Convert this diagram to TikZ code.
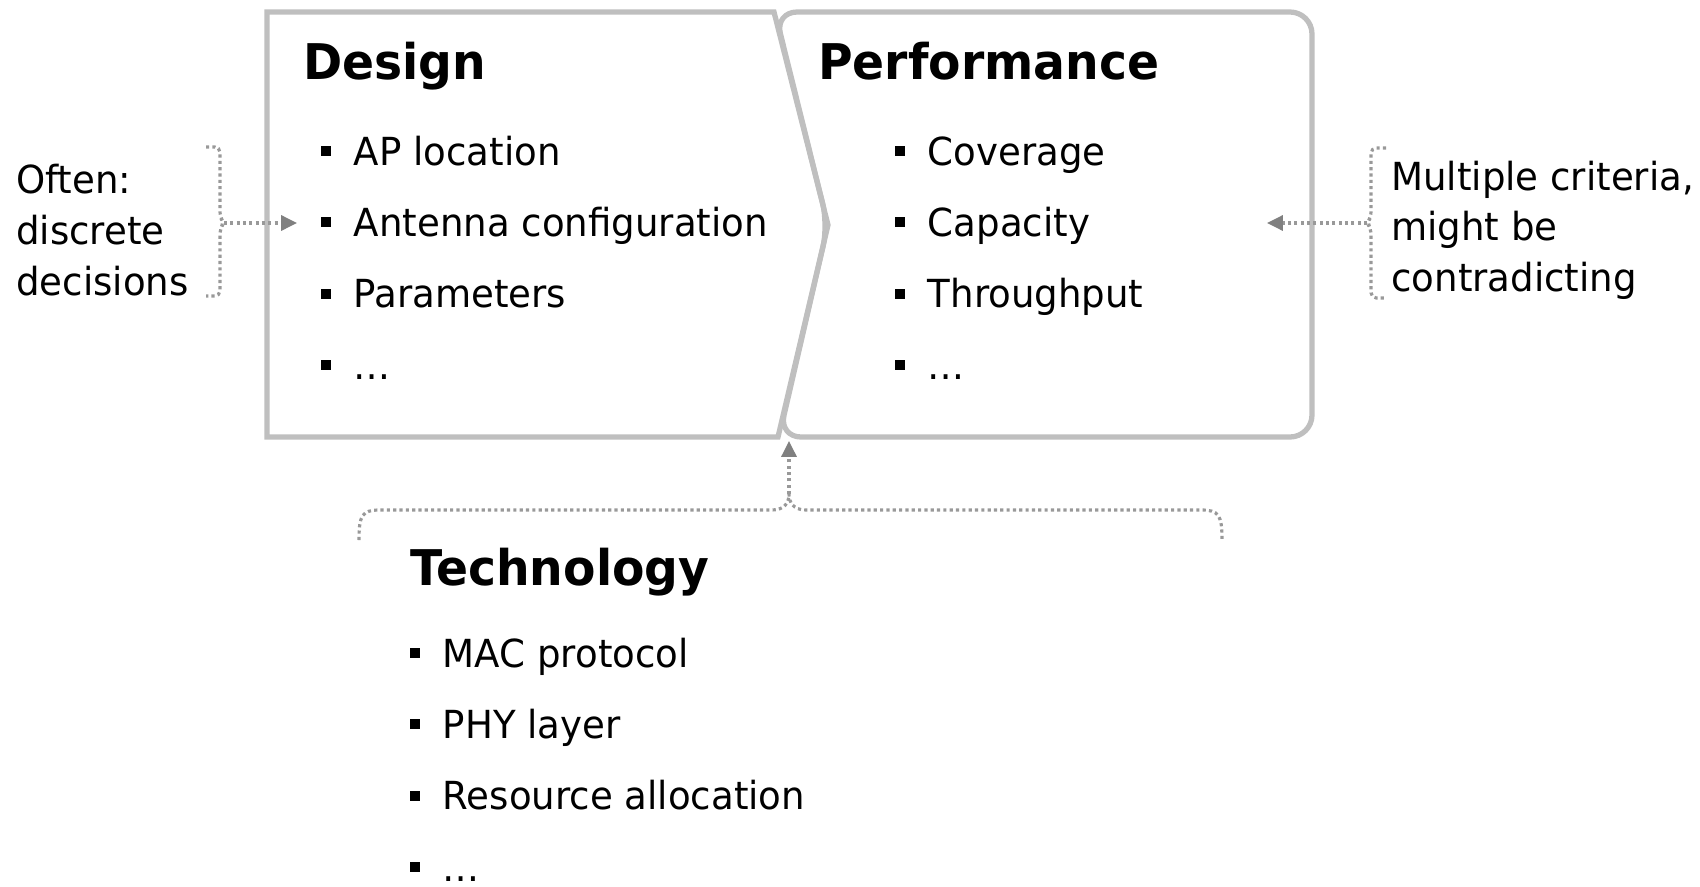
\documentclass[tikz,border=0pt]{standalone}
\usepackage{fontspec}
\setmainfont{DejaVu Sans}[FakeStretch=0.96]
\usetikzlibrary{positioning,arrows.meta}
\definecolor{boxgray}{HTML}{BFBFBF}
\definecolor{dotgray}{HTML}{999999}
\definecolor{tipgray}{HTML}{808080}
\newcommand\sqbul{\rule[0.24em]{0.26em}{0.26em}\hspace{0.58em}}

\begin{document}
\begin{tikzpicture}[x=0.02cm,y=-0.02cm,>={Triangle[length=9pt,width=8.5pt,color=tipgray]},
box/.style={draw=boxgray,line width=3pt},
dots/.style={draw=dotgray,line width=1.8pt,dash pattern=on 1.8pt off 1.8pt},
title/.style={anchor=base west,inner sep=0pt,font=\fontsize{28}{34}\selectfont\bfseries},
item/.style={anchor=base west,inner sep=0pt,font=\fontsize{22}{29}\selectfont},
side/.style={anchor=west,inner sep=0pt,align=left,font=\fontsize{22}{28.8}\selectfont},
row after/.style={below=1.43cm of #1.base west,anchor=base west}]

\useasboundingbox (0,0) rectangle (1700,886);

% the two boxes
\draw[box,rounded corners=0.44cm] (828,225) -- (775,12) -- (1312,12) -- (1312,437) -- (779,437) -- cycle;
\draw[box] (267,12) -- (774,12) -- (828,225) -- (778,437) -- (267,437) -- cycle;

\node[title] (design) at (303,79) {Design};
\node[title] (perf) at (818,79) {Performance};
\node[title] (tech) at (410,585) {Technology};

\node[item] (d1) at (321,165) {\sqbul AP location};
\node[item,row after=d1] (d2) {\sqbul Antenna configuration};
\node[item,row after=d2] (d3) {\sqbul Parameters};
\node[item,row after=d3] (d4) {\sqbul …};

\node[item] (p1) at (895,165) {\sqbul Coverage};
\node[item,row after=p1] (p2) {\sqbul Capacity};
\node[item,row after=p2] (p3) {\sqbul Throughput};
\node[item,row after=p3] (p4) {\sqbul …};

\node[item] (t1) at (410,667) {\sqbul MAC protocol};
\node[item,row after=t1] (t2) {\sqbul PHY layer};
\node[item,row after=t2] (t3) {\sqbul Resource allocation};
\node[item,row after=t3] (t4) {\sqbul …};

\node[side] (often) at (16,230) {Often:\\discrete\\decisions};
\node[side] (multi) at (1391,230) {Multiple criteria,\\might be\\contradicting};

% brackets and arrows
\coordinate (lb) at (224,223);
\coordinate (dtip) at (297,223);
\coordinate (rb) at (1367,223);
\coordinate (ptip) at (1267,223);
\coordinate (bt) at (789,494);
\coordinate (pbot) at (789,441);

\draw[dots,rounded corners=3pt] (206,147) -- (220,147) -- (220,217) -- (lb) -- (220,229) -- (220,296) -- (206,296);
\draw[dots,rounded corners=3pt] (1386,148) -- (1371,148) -- (1371,217) -- (rb) -- (1371,229) -- (1371,298) -- (1386,298);
\draw[dots] (359,540) .. controls (359,515) and (362,510) .. (380,510) -- (772,510) .. controls (785,510) and (789,502) .. (bt)
  .. controls (789,502) and (793,510) .. (806,510) -- (1201,510) .. controls (1219,510) and (1222,515) .. (1222,540);

\draw[dots,->] (lb) -- (dtip);
\draw[dots,->] (rb) -- (ptip);
\draw[dots,->] (bt) -- (pbot);
\end{tikzpicture}
\end{document}
